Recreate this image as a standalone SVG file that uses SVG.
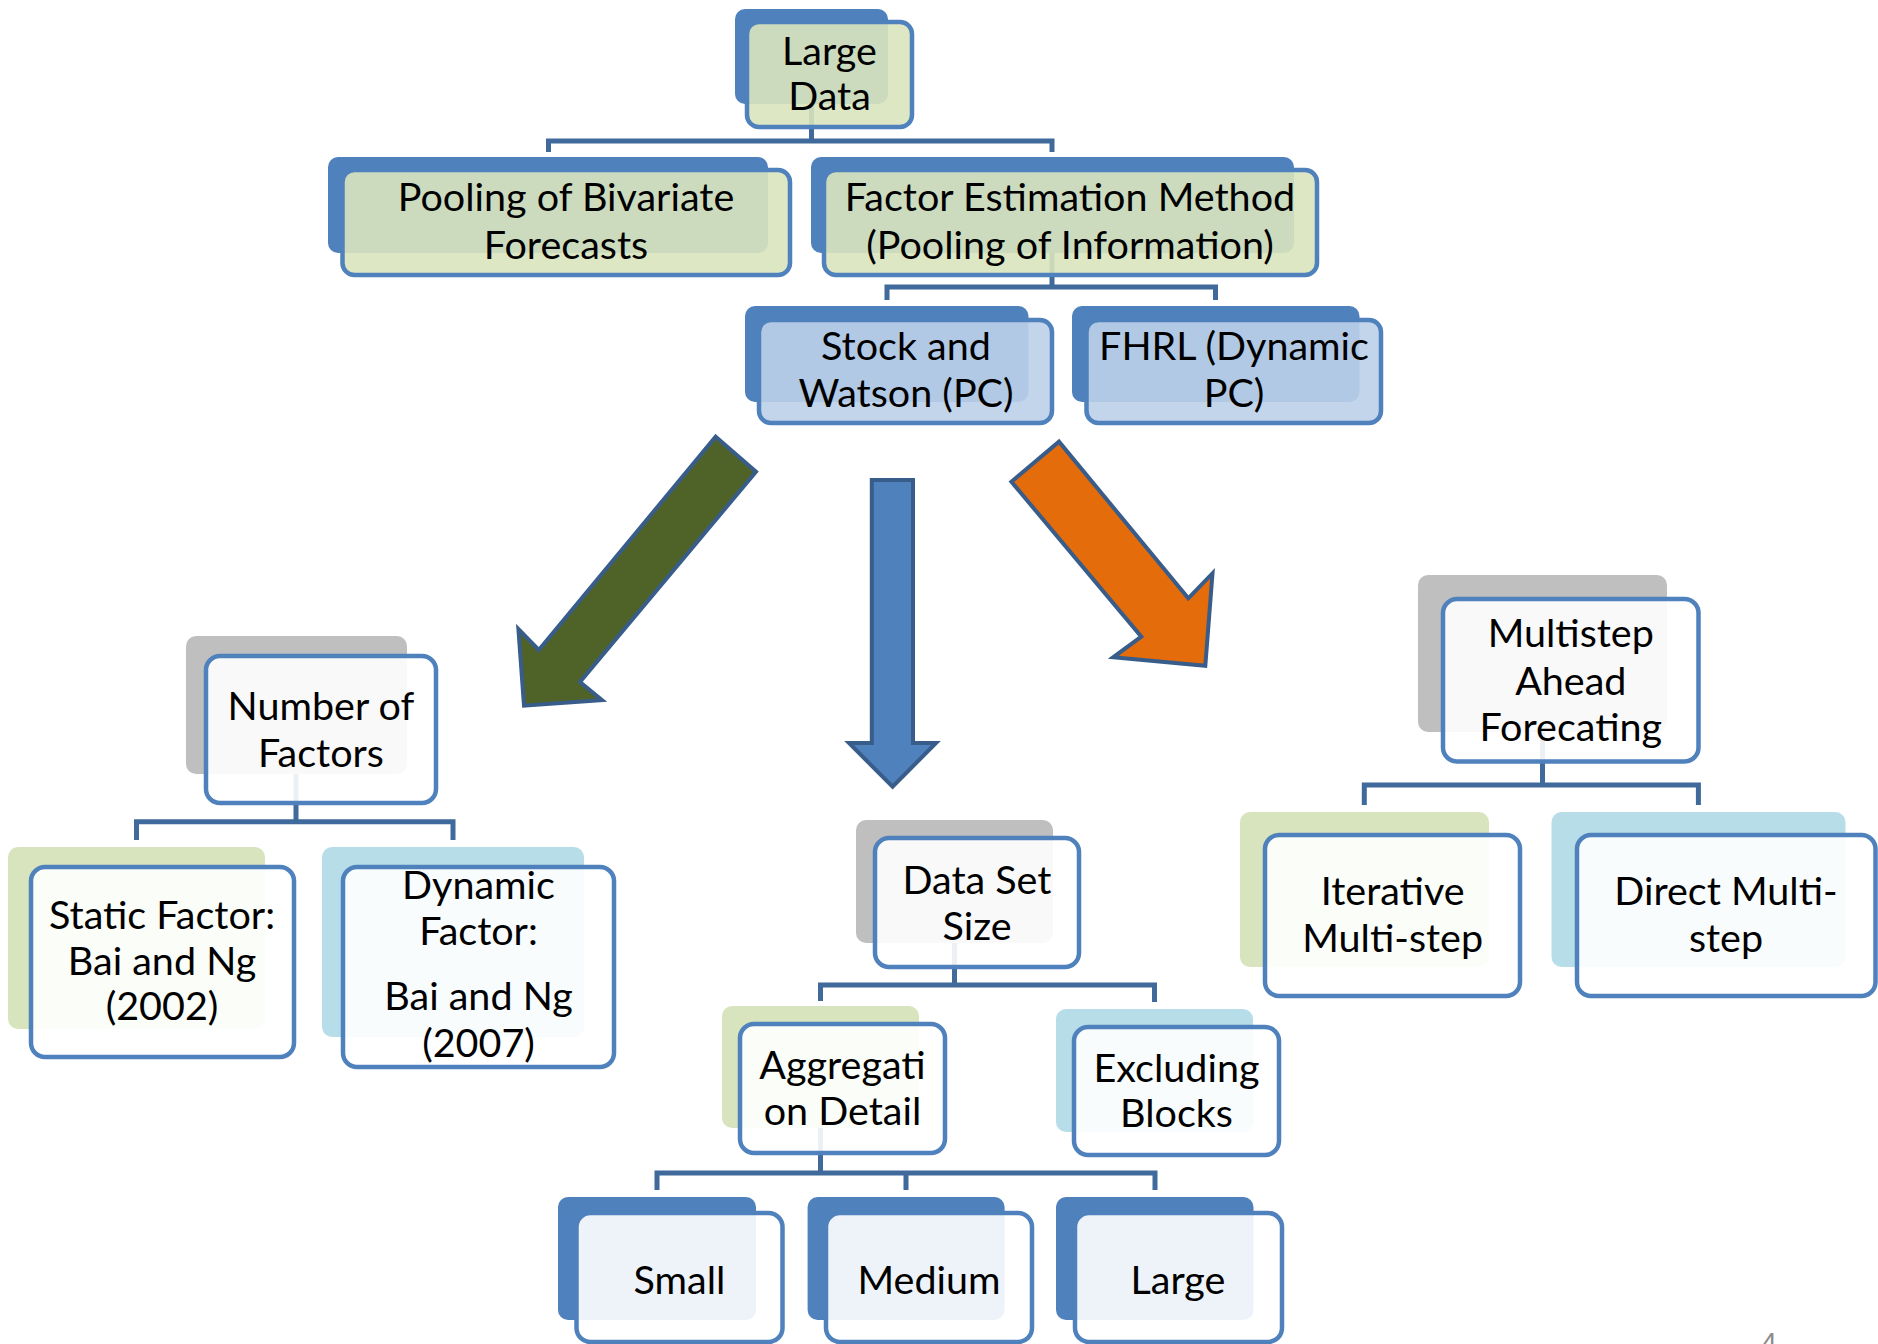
<svg xmlns="http://www.w3.org/2000/svg" width="1878" height="1344" viewBox="0 0 1878 1344">
<style>
.bb{fill:#4f81bd}
.bg{fill:#bfbfbf}
.bgr{fill:#d7e4bd}
.bc{fill:#b7dee8}
.fr{stroke:#4f81bd;stroke-width:4.5}
.fg{fill:#d9e4be;fill-opacity:0.9}
.fw{fill:#ffffff;fill-opacity:0.9}
.fb{fill:#bdd0e9;fill-opacity:0.9}
.t{font-family:Lato,"Open Sans",sans-serif;font-size:39.5px;text-anchor:middle;fill:#000}
.cn{fill:none;stroke:#40699c;stroke-width:5}
.ar{stroke:#385d8a;stroke-width:4;stroke-linejoin:miter}
</style>
<rect width="1878" height="1344" fill="#fff"/>
<g id="connectors">
<path class="cn" d="M548.5 152V141H1052V152M811.5 104V141"/>
<path class="cn" d="M887 300V287H1215.5V300M1052 253V287"/>
<path class="cn" d="M136.5 840V821.7H453V840M296 774V821.7"/>
<path class="cn" d="M820.5 1001V985H1154.5V1002M954.5 943V985"/>
<path class="cn" d="M657 1190V1173H1155V1190M906 1190V1173M820.5 1128V1173"/>
<path class="cn" d="M1364.3 805V785H1698.4V805M1542.5 732V785"/>
<polygon class="ar" fill="#4f6228" points="715.7,436.7 756,471.7 580,682 602,700 524,705.7 518.4,629 538.8,650"/>
<polygon class="ar" fill="#4f81bd" points="871.8,480 913,480 913,743 936,743 892.6,786.7 849,743 871.8,743"/>
<polygon class="ar" fill="#e46c0a" points="1011.4,481.7 1059,441.7 1188.3,598.3 1212.5,573.3 1205.3,665.7 1113.2,657.3 1141.3,636.7"/>
</g>
<g id="large-data">
<rect class="bb" x="735" y="9" width="153" height="95" rx="10"/>
<rect class="fr fg" x="747" y="22" width="165" height="105" rx="12"/>
<text class="t" x="829.5" y="65">Large</text>
<text class="t" x="829.5" y="110">Data</text>
</g>
<g id="pooling">
<rect class="bb" x="328" y="157" width="440" height="96" rx="10"/>
<rect class="fr fg" x="342.5" y="170" width="447.5" height="105" rx="12"/>
<text class="t" x="566" y="211">Pooling of Bivariate</text>
<text class="t" x="566" y="258.5">Forecasts</text>
</g>
<g id="factor-estimation">
<rect class="bb" x="811" y="157" width="483" height="96" rx="10"/>
<rect class="fr fg" x="824" y="170" width="493" height="105" rx="12"/>
<text class="t" x="1070" y="211">Factor Estimation Method</text>
<text class="t" x="1070" y="258.5">(Pooling of Information)</text>
</g>
<g id="stock-watson">
<rect class="bb" x="745" y="306" width="283.5" height="96" rx="10"/>
<rect class="fr fb" x="759" y="320" width="293" height="103" rx="12"/>
<text class="t" x="906" y="360">Stock and</text>
<text class="t" x="906" y="407">Watson (PC)</text>
</g>
<g id="fhrl">
<rect class="bb" x="1072" y="306" width="287.5" height="96" rx="10"/>
<rect class="fr fb" x="1086.5" y="320" width="294.5" height="103" rx="12"/>
<text class="t" x="1234" y="360">FHRL (Dynamic</text>
<text class="t" x="1234" y="407">PC)</text>
</g>
<g id="number-of-factors">
<rect class="bg" x="186" y="636" width="221" height="138" rx="10"/>
<rect class="fr fw" x="206" y="656" width="230" height="147" rx="14"/>
<text class="t" x="321" y="719.5">Number of</text>
<text class="t" x="321" y="767">Factors</text>
</g>
<g id="static-factor">
<rect class="bgr" x="8" y="847" width="257" height="182" rx="10"/>
<rect class="fr fw" x="31" y="867" width="263" height="190" rx="14"/>
<text class="t" x="162" y="928.5">Static Factor:</text>
<text class="t" x="162" y="975">Bai and Ng</text>
<text class="t" x="162" y="1020">(2002)</text>
</g>
<g id="dynamic-factor">
<rect class="bc" x="322" y="847" width="262" height="190" rx="10"/>
<rect class="fr fw" x="343" y="867" width="271" height="200" rx="14"/>
<text class="t" x="478.5" y="898.5">Dynamic</text>
<text class="t" x="478.5" y="945">Factor:</text>
<text class="t" x="478.5" y="1010">Bai and Ng</text>
<text class="t" x="478.5" y="1057">(2007)</text>
</g>
<g id="data-set-size">
<rect class="bg" x="856" y="820" width="197" height="123" rx="10"/>
<rect class="fr fw" x="875" y="838" width="204" height="129" rx="14"/>
<text class="t" x="977" y="893.5">Data Set</text>
<text class="t" x="977" y="940">Size</text>
</g>
<g id="aggregation-detail">
<rect class="bgr" x="722" y="1006" width="197" height="122" rx="10"/>
<rect class="fr fw" x="740" y="1024" width="205" height="129" rx="14"/>
<text class="t" x="842.5" y="1078.5">Aggregati</text>
<text class="t" x="842.5" y="1125">on Detail</text>
</g>
<g id="excluding-blocks">
<rect class="bc" x="1056" y="1009" width="197" height="123" rx="10"/>
<rect class="fr fw" x="1074" y="1027" width="205" height="128" rx="14"/>
<text class="t" x="1176.5" y="1082">Excluding</text>
<text class="t" x="1176.5" y="1127">Blocks</text>
</g>
<g id="small">
<rect class="bb" x="558" y="1197" width="198" height="123" rx="10"/>
<rect class="fr fw" x="576.5" y="1213" width="206" height="129" rx="14"/>
<text class="t" x="679.4" y="1293.5">Small</text>
</g>
<g id="medium">
<rect class="bb" x="807.6" y="1197" width="197" height="123" rx="10"/>
<rect class="fr fw" x="826" y="1213" width="206" height="129" rx="14"/>
<text class="t" x="929" y="1293.5">Medium</text>
</g>
<g id="large">
<rect class="bb" x="1056" y="1197" width="197.5" height="123" rx="10"/>
<rect class="fr fw" x="1075" y="1213" width="207" height="129" rx="14"/>
<text class="t" x="1178" y="1293.5">Large</text>
</g>
<g id="multistep">
<rect class="bg" x="1418" y="575" width="249" height="157" rx="10"/>
<rect class="fr fw" x="1443" y="599" width="255.5" height="162.5" rx="14"/>
<text class="t" x="1570.8" y="647">Multistep</text>
<text class="t" x="1570.8" y="694.5">Ahead</text>
<text class="t" x="1570.8" y="741">Forecating</text>
</g>
<g id="iterative">
<rect class="bgr" x="1240" y="812" width="249" height="155" rx="10"/>
<rect class="fr fw" x="1265" y="835" width="255" height="161" rx="14"/>
<text class="t" x="1392.7" y="905">Iterative</text>
<text class="t" x="1392.7" y="952">Multi-step</text>
</g>
<g id="direct">
<rect class="bc" x="1551.5" y="812" width="294" height="155" rx="10"/>
<rect class="fr fw" x="1577" y="835" width="298.5" height="161" rx="14"/>
<text class="t" x="1726" y="905">Direct Multi-</text>
<text class="t" x="1726" y="952">step</text>
</g>
<text x="1769" y="1352" style="font-family:'Liberation Sans',sans-serif;font-size:28px;fill:#8c8c8c;text-anchor:middle">4</text>
</svg>
